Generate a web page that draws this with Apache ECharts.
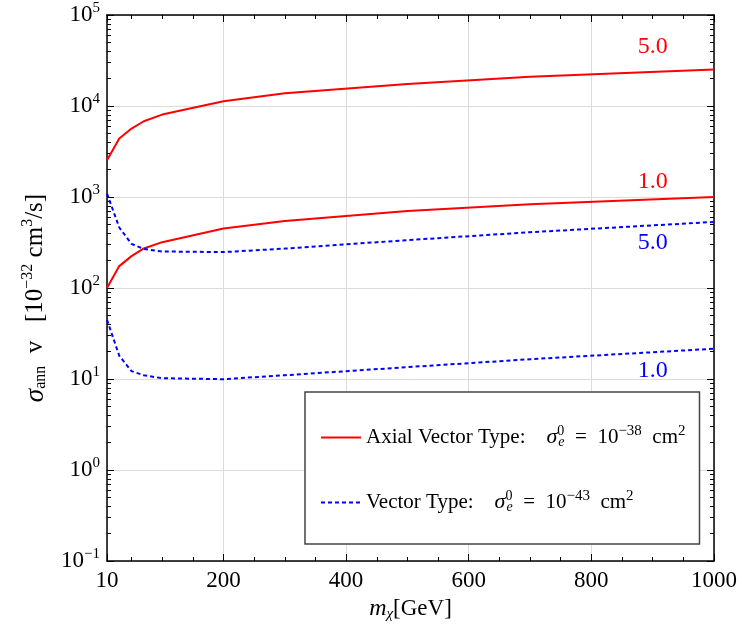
<!DOCTYPE html>
<html><head><meta charset="utf-8">
<script src="https://cdn.jsdelivr.net/npm/echarts@6/dist/echarts.min.js"></script>
<style>html,body{margin:0;padding:0;background:#fff}#c{width:742px;height:632px}</style>
</head><body><div id="c"></div>
<script>
// ---- data ----
const massGeV  = [10, 30, 50, 70, 100, 200, 300, 500, 700, 1000];
const axial50  = [2540, 4400, 5650, 6800, 8050, 11300, 13800, 17500, 21000, 25200];
const axial10  = [100, 174, 224, 272, 319, 451, 546, 700, 830, 1000];
const vector50 = [1090, 462, 305, 268, 252, 248, 271, 336, 410, 532];
const vector10 = [44.7, 18, 12.2, 11.0, 10.2, 9.95, 11.0, 13.5, 16.5, 21.5];
const curveTags = ['5.0', '1.0', '5.0', '1.0'];
const tagMass   = [900, 900, 900, 900];
const tagValue  = [45300, 1490, 318, 12.2];
const legendNames = ['axial', 'vector'];
const legendText = {
  axial:  'Axial Vector Type:    {sig|σ}{s0|0}{se|e}  =  10{sup|\u221238}  cm{sup|2}',
  vector: 'Vector Type:    {sig|σ}{s0|0}{se|e}  =  10{sup|\u221243}  cm{sup|2}'
};

const FONT = 'Liberation Serif';
const RED = '#ff0000', BLUE = '#0000ff';
const chart = echarts.init(document.getElementById('c'));
const pair = (xs, ys) => xs.map((x, i) => [x, ys[i]]);

const minorVals = [];
for (let e = -1; e < 5; e++) for (let k = 2; k <= 9; k++) minorVals.push(+(k * Math.pow(10, e)).toPrecision(3));

const supLabel = v => {
  const e = Math.round(Math.log10(v));
  return '{b|10}{sup|' + (e < 0 ? '\u2212' + (-e) : e) + '}';
};
const tickRich = {
  b: {fontSize: 23, fontFamily: FONT, color: '#000'},
  sup: {fontSize: 15, fontFamily: FONT, color: '#000', padding: [0, 0, 14, 0]}
};

const blackLine = {show: true, onZero: false, lineStyle: {color: '#000', width: 1.5}};
const baseY = {type: 'log', logBase: 10, min: 0.1, max: 100000, splitNumber: 6};
const baseX = {type: 'value', min: 10, max: 1000, splitNumber: 5};

function tagPoint(i, color) {
  return {
    symbol: 'circle', symbolSize: 0, silent: true,
    data: [{coord: [tagMass[i], tagValue[i]],
      label: {show: true, position: 'inside', formatter: curveTags[i], color: color,
              fontFamily: FONT, fontSize: 24}}]
  };
}

function lineSeries(name, ys, color, dashed, i) {
  return {
    type: 'line', name: name, data: pair(massGeV, ys), xAxisIndex: 0, yAxisIndex: 0,
    symbol: 'none', smooth: false, animation: false, color: color,
    lineStyle: {color: color, width: 2, type: dashed ? [4, 3] : 'solid'},
    markPoint: tagPoint(i, color)
  };
}

const option = {
  animation: false,
  backgroundColor: '#fff',
  grid: {left: 107, right: 28, top: 15, bottom: 71, containLabel: false},
  xAxis: [
    Object.assign({}, baseX, {
      position: 'bottom',
      axisLine: blackLine,
      axisTick: {show: true, inside: true, length: 7, lineStyle: {color: '#000'}},
      minorTick: {show: true, splitNumber: 4, length: 4, lineStyle: {color: '#000'}},
      axisLabel: {fontFamily: FONT, fontSize: 23, color: '#000', margin: 8, formatter: v => String(v)},
      splitLine: {show: true, lineStyle: {color: '#dcdcdc', width: 1}},
      name: '{m|m}{sub|χ}[GeV]', nameLocation: 'middle', nameGap: 32,
      nameTextStyle: {fontFamily: FONT, fontSize: 23, color: '#000',
        rich: {m: {fontFamily: FONT, fontSize: 24, fontStyle: 'italic', color: '#000'},
               sub: {fontFamily: FONT, fontSize: 15, fontStyle: 'italic', color: '#000', padding: [10, 0, 0, 0]}}}
    }),
    Object.assign({}, baseX, {
      position: 'top',
      axisLine: blackLine,
      axisTick: {show: true, inside: true, length: 7, lineStyle: {color: '#000'}},
      minorTick: {show: true, splitNumber: 4, length: 4, lineStyle: {color: '#000'}},
      axisLabel: {show: false}, splitLine: {show: false}
    })
  ],
  yAxis: [
    Object.assign({}, baseY, {
      position: 'left',
      axisLine: blackLine,
      axisTick: {show: true, inside: true, length: 7, lineStyle: {color: '#000'}},
      axisLabel: {formatter: supLabel, rich: tickRich, margin: 7},
      splitLine: {show: true, lineStyle: {color: '#dcdcdc', width: 1}},
      name: '{sig|σ}{sub|ann}  v   [10{sup|\u221232} cm{sup|3}/s]',
      nameLocation: 'middle', nameRotate: 90, nameGap: 56,
      nameTextStyle: {fontFamily: FONT, fontSize: 25, color: '#000', padding: [0, 20, 0, 0],
        rich: {sig: {fontFamily: FONT, fontSize: 27, fontStyle: 'italic', color: '#000'},
               sub: {fontFamily: FONT, fontSize: 16, color: '#000', padding: [11, 0, 0, 0]},
               sup: {fontFamily: FONT, fontSize: 16, color: '#000', padding: [0, 0, 15, 0]}}}
    }),
    Object.assign({}, baseY, {
      position: 'left', axisLine: {show: false},
      axisTick: {show: true, inside: true, length: 4, customValues: minorVals, lineStyle: {color: '#000'}},
      axisLabel: {show: false}, splitLine: {show: false}
    }),
    Object.assign({}, baseY, {
      position: 'right', axisLine: blackLine,
      axisTick: {show: true, inside: true, length: 7, lineStyle: {color: '#000'}},
      axisLabel: {show: false}, splitLine: {show: false}
    }),
    Object.assign({}, baseY, {
      position: 'right', axisLine: {show: false},
      axisTick: {show: true, inside: true, length: 4, customValues: minorVals, lineStyle: {color: '#000'}},
      axisLabel: {show: false}, splitLine: {show: false}
    })
  ],
  legend: {
    data: legendNames, orient: 'vertical', left: 305, top: 392,
    itemWidth: 40, itemHeight: 14, itemGap: 40, padding: [32, 14, 30, 15],
    backgroundColor: '#fff', borderColor: '#444', borderWidth: 1.5, borderRadius: 0,
    selectedMode: false,
    itemStyle: {opacity: 0, color: 'rgba(0,0,0,0)', borderWidth: 0},
    formatter: n => legendText[n],
    textStyle: {fontFamily: FONT, fontSize: 21, color: '#000',
      rich: {
        sig: {fontFamily: FONT, fontSize: 22, fontStyle: 'italic', color: '#000'},
        s0: {fontFamily: FONT, fontSize: 14, color: '#000', width: 1, align: 'left', padding: [0, 0, 12, 0]},
        se: {fontFamily: FONT, fontSize: 14, fontStyle: 'italic', color: '#000', padding: [9, 0, 0, 0]},
        sup: {fontFamily: FONT, fontSize: 15, color: '#000', padding: [0, 0, 12, 0]}
      }}
  },
  series: [
    lineSeries('axial', axial50, RED, false, 0),
    lineSeries('axial', axial10, RED, false, 1),
    lineSeries('vector', vector50, BLUE, true, 2),
    lineSeries('vector', vector10, BLUE, true, 3)
  ]
};
chart.setOption(option);
</script>
</body></html>
